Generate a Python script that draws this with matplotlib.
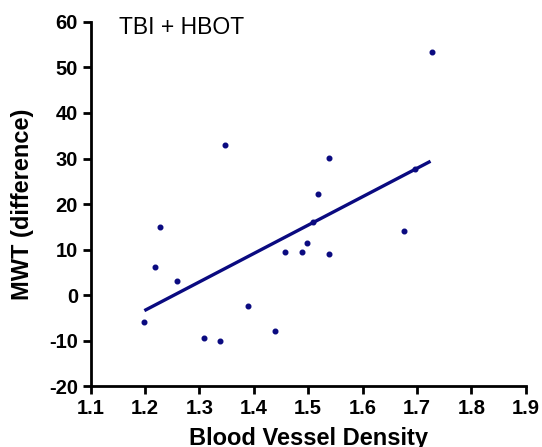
import numpy as np
import matplotlib.pyplot as plt

plt.rcParams['font.family'] = ['Liberation Sans', 'DejaVu Sans']
plt.rcParams['font.weight'] = 'bold'
plt.rcParams['axes.unicode_minus'] = False

# Data
density = [1.199, 1.218, 1.228, 1.259, 1.309, 1.338, 1.348, 1.389, 1.439,
           1.458, 1.488, 1.498, 1.509, 1.518, 1.538, 1.538, 1.677, 1.697, 1.728]
mwt_diff = [-5.9, 6.1, 14.9, 3.2, -9.5, -10.0, 33.0, -2.4, -7.8,
            9.5, 9.5, 11.4, 16.0, 22.2, 30.1, 9.1, 14.1, 27.6, 53.3]

# Regression line endpoints
fit_x = [1.199, 1.725]
fit_y = [-3.4, 29.4]

xticks = [1.1, 1.2, 1.3, 1.4, 1.5, 1.6, 1.7, 1.8, 1.9]
xticklabels = ['1.1', '1.2', '1.3', '1.4', '1.5', '1.6', '1.7', '1.8', '1.9']
yticks = [-20, -10, 0, 10, 20, 30, 40, 50, 60]

navy = '#0a0a80'

fig = plt.figure(figsize=(5.42, 4.47), dpi=100)
ax = fig.add_axes([0.167, 0.136, 0.803, 0.815])

ax.scatter(density, mwt_diff, s=11, color=navy, zorder=3)
ax.plot(fit_x, fit_y, color=navy, linewidth=2.4, solid_capstyle='butt', zorder=2)

ax.set_xlim(1.1, 1.9)
ax.set_ylim(-20, 60)
ax.set_xticks(xticks)
ax.set_xticklabels(xticklabels, fontweight='bold')
ax.set_yticks(yticks)
ax.set_yticklabels([str(v) for v in yticks], fontweight='bold')

for side in ['top', 'right']:
    ax.spines[side].set_visible(False)
for side in ['left', 'bottom']:
    ax.spines[side].set_linewidth(2.0)

ax.tick_params(width=2.0, length=6, labelsize=14.5, direction='out', pad=3)

ax.set_xlabel('Blood Vessel Density', fontsize=17, fontweight='bold', va='center')
ax.xaxis.set_label_coords(0.5, -0.143)
ax.set_ylabel('MWT (difference)', fontsize=17, fontweight='bold', va='center', ha='center')
ax.yaxis.set_label_coords(-0.156, 0.5)

ax.text(1.152, 58.7, 'TBI + HBOT', fontsize=16.5, fontweight='normal', va='center', ha='left')

fig.savefig('out.png', dpi=100)
